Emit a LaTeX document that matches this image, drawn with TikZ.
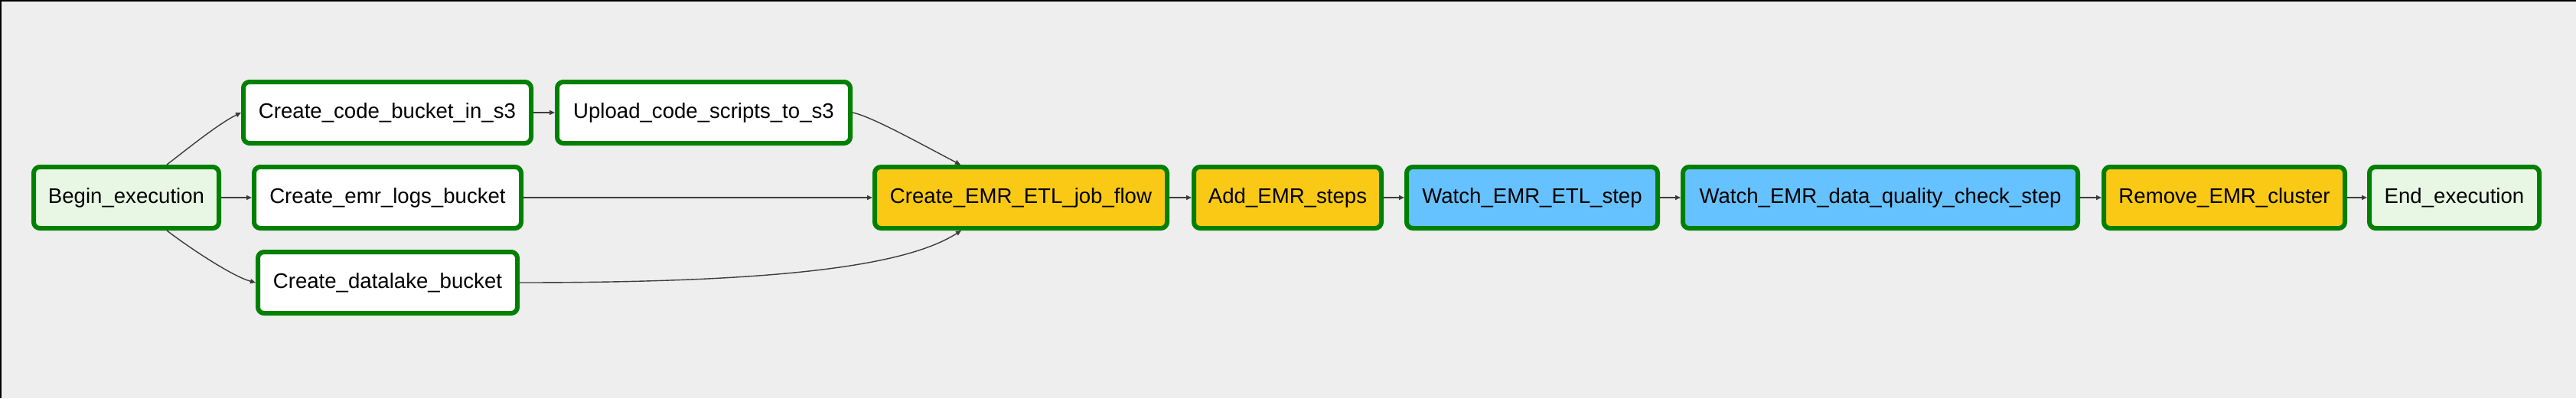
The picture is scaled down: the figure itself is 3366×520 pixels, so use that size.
\documentclass[tikz,border=0pt]{standalone}
\usepackage{fontspec}
\setmainfont{Liberation Sans}
\usetikzlibrary{arrows.meta}
\definecolor{bgc}{HTML}{EEEEEE}
\definecolor{dummyc}{HTML}{E8F7E4}
\definecolor{emrc}{HTML}{F9C915}
\definecolor{sensc}{HTML}{66C2FF}
\definecolor{bordc}{HTML}{008000}
\definecolor{edgec}{HTML}{3C3C3C}
\tikzset{
  task/.style={draw=bordc, line width=6pt, rounded corners=8pt, rectangle,
    minimum height=80pt, inner sep=0pt, outer sep=3pt,
    font=\fontsize{27.6}{33}\selectfont, text=black},
  dummytask/.style={task, fill=dummyc},
  s3task/.style={task, fill=white},
  emrtask/.style={task, fill=emrc},
  senstask/.style={task, fill=sensc},
  edge/.style={draw=edgec, line width=1.4pt, -{Triangle[length=7pt,width=6pt]}}
}
\begin{document}
\begin{tikzpicture}[x=1pt,y=-1pt]
\useasboundingbox (0,0) rectangle (3366,520);
\fill[bgc] (0,0) rectangle (3366,520);
\draw[black, line width=4pt] (0,520) -- (0,0) -- (3366,0);

\node[dummytask, minimum width=242pt] (begin) at (165,258) {Begin\_execution};
\node[s3task, minimum width=376pt] (code) at (506,147) {Create\_code\_bucket\_in\_s3};
\node[s3task, minimum width=383pt] (upload) at (919.5,147) {Upload\_code\_scripts\_to\_s3};
\node[s3task, minimum width=349pt] (logs) at (506.5,258) {Create\_emr\_logs\_bucket};
\node[s3task, minimum width=339pt] (lake) at (506.5,369) {Create\_datalake\_bucket};
\node[emrtask, minimum width=382pt] (etl) at (1334,258) {Create\_EMR\_ETL\_job\_flow};
\node[emrtask, minimum width=245pt] (add) at (1682.5,258) {Add\_EMR\_steps};
\node[senstask, minimum width=328pt] (wetl) at (2002,258) {Watch\_EMR\_ETL\_step};
\node[senstask, minimum width=516pt] (wdq) at (2457,258) {Watch\_EMR\_data\_quality\_check\_step};
\node[emrtask, minimum width=315pt] (remove) at (2906.5,258) {Remove\_EMR\_cluster};
\node[dummytask, minimum width=222pt] (end) at (3207,258) {End\_execution};

\draw[edge] ([xshift=53pt]begin.north) .. controls +(30,-23) and +(-30,15) .. (code.west);
\draw[edge] (begin.east) -- (logs.west);
\draw[edge] ([xshift=53pt]begin.south) .. controls +(30,23) and +(-30,-8) .. (lake.west);
\draw[edge] (code.east) -- (upload.west);
\draw[edge] (upload.east) .. controls +(25,5) and +(-50,-26) .. ([xshift=-79pt]etl.north);
\draw[edge] (logs.east) -- (etl.west);
\draw[edge] (lake.east) .. controls +(321,0) and +(-76,49) .. ([xshift=-78pt]etl.south);
\draw[edge] (etl.east) -- (add.west);
\draw[edge] (add.east) -- (wetl.west);
\draw[edge] (wetl.east) -- (wdq.west);
\draw[edge] (wdq.east) -- (remove.west);
\draw[edge] (remove.east) -- (end.west);
\end{tikzpicture}
\end{document}
